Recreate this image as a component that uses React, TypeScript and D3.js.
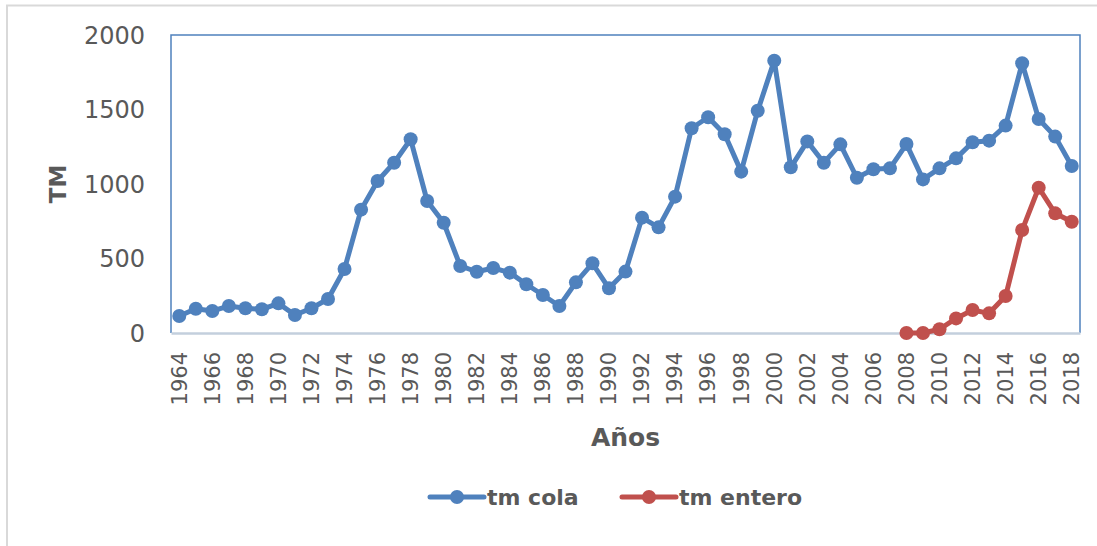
import * as d3 from 'd3';
import React, { useEffect, useRef } from 'react';

// years 1964..2018
const years = d3.range(1964, 2019).map(String);
const tickYears = years.filter((y, i) => i % 2 === 0);

const tmCola = [
  114, 163, 148, 181, 166, 159, 199, 121, 166, 228,
  430, 828, 1020, 1143, 1300, 886, 740, 450, 411, 436,
  405, 327, 255, 181, 340, 468, 300, 412, 774, 709,
  915, 1374, 1448, 1334, 1083, 1492, 1828, 1112, 1286, 1143,
  1266, 1042, 1099, 1105, 1268, 1031, 1105, 1172, 1280, 1291,
  1392, 1810, 1436, 1318, 1121,
];

const enteroYears = d3.range(2008, 2019).map(String);
const tmEntero = [0, 0, 25, 98, 154, 132, 248, 691, 975, 803, 747];

const yTicks = [0, 500, 1000, 1500, 2000];

const series = [
  { name: 'tm cola', color: '#4f81bd', x: years, y: tmCola },
  { name: 'tm entero', color: '#c0504d', x: enteroYears, y: tmEntero },
];

export default function App() {
  const svgRef = useRef<SVGSVGElement>(null);
  const width = 1097;
  const height = 546;
  const margin = { top: 35, right: 17, bottom: 213, left: 171 };

  useEffect(() => {
    const svg = d3.select(svgRef.current);
    svg.selectAll('*').remove();

    const font = "'Century Gothic', 'DejaVu Sans', sans-serif";
    const textColor = '#595959';

    // outer chart frame
    svg.append('rect')
      .attr('x', 7).attr('y', 5.5)
      .attr('width', width + 20).attr('height', height + 20)
      .attr('fill', 'white')
      .attr('stroke', '#d9d9d9')
      .attr('stroke-width', 2);

    const x = d3.scaleBand()
      .domain(years)
      .range([margin.left, width - margin.right]);

    const y = d3.scaleLinear()
      .domain([0, 2000])
      .range([height - margin.bottom, margin.top]);

    // plot border: blue left/top/right
    const x0 = margin.left, x1 = width - margin.right;
    const y0 = margin.top, y1 = height - margin.bottom;
    svg.append('path')
      .attr('d', `M${x0},${y1}V${y0}H${x1}V${y1}`)
      .attr('fill', 'none')
      .attr('stroke', '#4f81bd')
      .attr('stroke-width', 1.5);

    // y axis
    svg.append('g')
      .attr('transform', `translate(${x0 - 26},0)`)
      .call(d3.axisLeft(y).tickValues(yTicks).tickFormat(d3.format('d')).tickSize(0).tickPadding(0))
      .call(g => g.select('.domain').remove())
      .selectAll('text')
      .attr('font-family', font)
      .attr('font-size', 24)
      .attr('fill', textColor)
      .attr('dy', '0.35em');

    // x axis
    const xAxisG = svg.append('g')
      .attr('transform', `translate(0,${y1})`)
      .call(d3.axisBottom(x).tickValues(tickYears).tickSize(0).tickPadding(0));
    xAxisG.select('.domain')
      .attr('stroke', '#c3cfdd')
      .attr('stroke-width', 2.5);
    xAxisG.selectAll('text')
      .attr('font-family', font)
      .attr('font-size', 21)
      .attr('fill', textColor)
      .attr('transform', 'rotate(-90)')
      .attr('text-anchor', 'end')
      .attr('x', -19)
      .attr('y', 0)
      .attr('dy', '0.35em');

    // axis titles
    svg.append('text')
      .attr('transform', `translate(66,${(y0 + y1) / 2}) rotate(-90)`)
      .attr('text-anchor', 'middle')
      .attr('font-family', font)
      .attr('font-weight', 'bold')
      .attr('font-size', 23)
      .attr('fill', textColor)
      .text('TM');

    svg.append('text')
      .attr('x', (x0 + x1) / 2)
      .attr('y', 446)
      .attr('text-anchor', 'middle')
      .attr('font-family', font)
      .attr('font-weight', 'bold')
      .attr('font-size', 25)
      .attr('fill', textColor)
      .text('Años');

    // series
    const cx = (d: string) => (x(d) as number) + x.bandwidth() / 2;
    series.forEach(s => {
      const pts = s.x.map((d, i) => [cx(d), y(s.y[i])] as [number, number]);
      svg.append('path')
        .datum(pts)
        .attr('fill', 'none')
        .attr('stroke', s.color)
        .attr('stroke-width', 5)
        .attr('stroke-linejoin', 'round')
        .attr('d', d3.line());
      svg.append('g')
        .selectAll('circle')
        .data(pts)
        .join('circle')
        .attr('cx', d => d[0])
        .attr('cy', d => d[1])
        .attr('r', 7)
        .attr('fill', s.color);
    });

    // legend
    const legendX = [430, 622];
    series.forEach((s, i) => {
      const g = svg.append('g').attr('transform', `translate(${legendX[i]},497)`);
      g.append('line')
        .attr('x1', 0).attr('x2', 54)
        .attr('stroke', s.color)
        .attr('stroke-width', 5)
        .attr('stroke-linecap', 'round');
      g.append('circle').attr('cx', 27).attr('r', 7).attr('fill', s.color);
      g.append('text')
        .attr('x', 57)
        .attr('dy', '0.35em')
        .attr('font-family', font)
        .attr('font-weight', 'bold')
        .attr('font-size', 22)
        .attr('fill', textColor)
        .text(s.name);
    });
  }, []);

  return (
    <div style={{ position: 'absolute', left: 0, top: 0 }}>
      <svg ref={svgRef} width={width} height={height} style={{ display: 'block' }} />
    </div>
  );
}
